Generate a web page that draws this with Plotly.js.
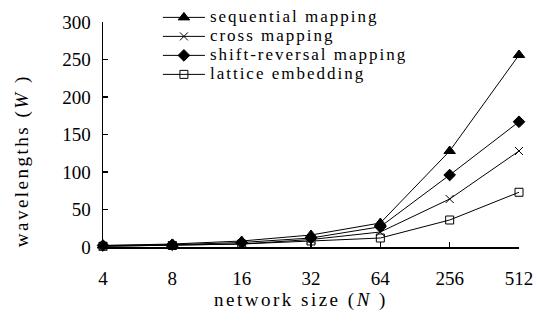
<!DOCTYPE html>
<html>
<head>
<meta charset="utf-8">
<script src="https://cdn.plot.ly/plotly-3.0.1.min.js"></script>
<style>
html, body { margin: 0; padding: 0; background: #fff; }
#chart { width: 537px; height: 321px; }
.legendtext { font-size: 17px !important; letter-spacing: 2px; }
.annotation-text { letter-spacing: 2.5px; }
</style>
</head>
<body>
<div id="chart"></div>
<script>
const categories = ['4', '8', '16', '32', '64', '256', '512'];
const sequential = [2, 4, 8, 16, 32, 128, 256];
const cross = [1, 2, 4, 10, 20, 64, 128];
const shiftReversal = [2, 3, 6, 12, 27, 96, 167];
const lattice = [1, 2, 4, 8, 12, 36, 73];
const seriesNames = ['sequential mapping', 'cross mapping', 'shift-reversal mapping', 'lattice embedding'];
const yTicks = [0, 50, 100, 150, 200, 250, 300];

const FONT = '"Liberation Serif", serif';

function mk(name, y, symbol, size) {
  return {
    type: 'scatter', mode: 'lines+markers', name: name,
    x: categories, y: y, cliponaxis: false,
    line: {color: '#000', width: 1},
    marker: {symbol: symbol, size: size, color: '#000',
             line: {color: '#000', width: 1}}
  };
}

const data = [
  mk(seriesNames[0], sequential, 'triangle-up', 10),
  mk(seriesNames[1], cross, 'x-thin-open', 8),
  mk(seriesNames[2], shiftReversal, 'diamond', 9),
  mk(seriesNames[3], lattice, 'square-open', 8)
];

const layout = {
  width: 537, height: 321,
  margin: {l: 103, r: 18, t: 22, b: 74, autoexpand: false},
  paper_bgcolor: '#fff', plot_bgcolor: '#fff',
  font: {family: FONT, size: 19, color: '#000'},
  showlegend: true,
  legend: {
    x: 0.132, xanchor: 'left', y: 1.085, yanchor: 'top',
    bgcolor: 'rgba(0,0,0,0)', borderwidth: 0,
    font: {family: FONT, size: 12, color: '#000'},
    itemwidth: 42, tracegroupgap: 0
  },
  xaxis: {
    type: 'category', range: [0, 6], fixedrange: true,
    showline: true, linecolor: '#000', linewidth: 1.5,
    ticks: 'inside', ticklen: 5, tickwidth: 1.5, tickcolor: '#000',
    showgrid: false, zeroline: false,
    ticklabelstandoff: 14,
    tickfont: {family: FONT, size: 19, color: '#000'}
  },
  yaxis: {
    range: [0, 300], fixedrange: true,
    tickvals: yTicks, ticktext: yTicks.map(String),
    showline: true, linecolor: '#000', linewidth: 1.5,
    ticks: 'inside', ticklen: 5, tickwidth: 1.5, tickcolor: '#000',
    showgrid: false, zeroline: false,
    ticklabelstandoff: 7,
    tickfont: {family: FONT, size: 19, color: '#000'}
  },
  annotations: [
    {text: 'network size (<i>N</i> )', xref: 'paper', yref: 'paper',
     x: 0.476, y: -0.2356, xanchor: 'center', yanchor: 'middle', showarrow: false,
     font: {family: FONT, size: 19, color: '#000'}},
    {text: 'wavelengths (<i>W</i> )', xref: 'paper', yref: 'paper',
     x: -0.195, y: 0.385, xanchor: 'center', yanchor: 'middle', showarrow: false,
     textangle: -90,
     font: {family: FONT, size: 19, color: '#000'}}
  ]
};

Plotly.newPlot('chart', data, layout, {displayModeBar: false, staticPlot: true});
</script>
</body>
</html>
